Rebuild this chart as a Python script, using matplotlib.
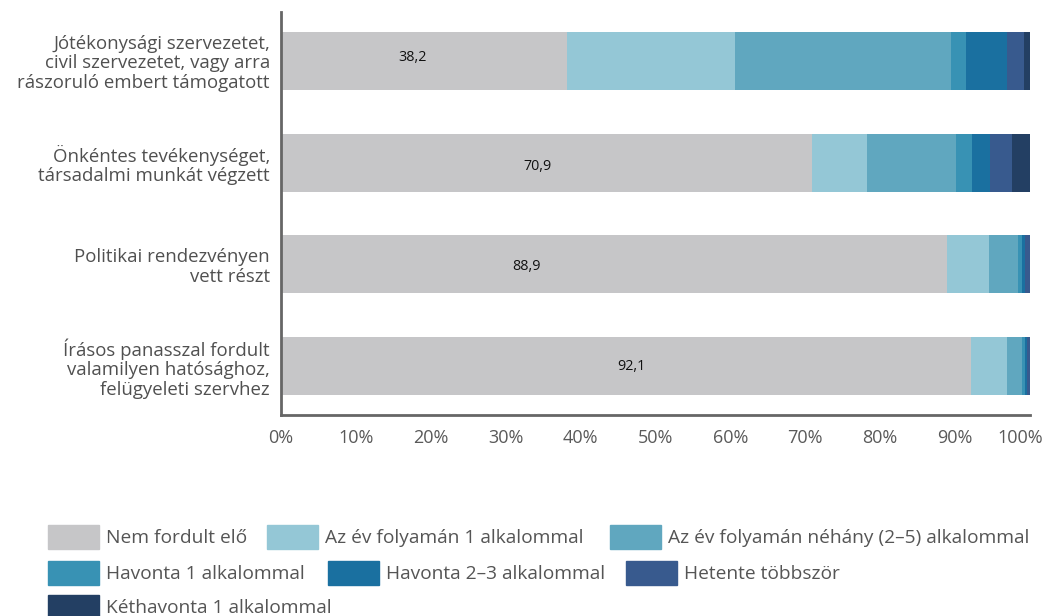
import matplotlib
matplotlib.use("Agg")
import matplotlib.pyplot as plt
from matplotlib.patches import Rectangle
import matplotlib.transforms as mtransforms

plt.rcParams['font.family'] = ['Open Sans', 'DejaVu Sans']

categories = [
    "Jótékonysági szervezetet,\ncivil szervezetet, vagy arra\nrászoruló embert támogatott",
    "Önkéntes tevékenységet,\ntársadalmi munkát végzett",
    "Politikai rendezvényen\nvett részt",
    "Írásos panasszal fordult\nvalamilyen hatósághoz,\nfelügyeleti szervhez",
]

series_names = [
    "Nem fordult elő",
    "Az év folyamán 1 alkalommal",
    "Az év folyamán néhány (2–5) alkalommal",
    "Havonta 1 alkalommal",
    "Havonta 2–3 alkalommal",
    "Hetente többször",
    "Kéthavonta 1 alkalommal",
]

# one list per series, values for the four categories (percent)
nem_fordult_elo = [38.2, 70.9, 88.9, 92.1]
ev_1_alkalom = [22.4, 7.3, 5.6, 4.8]
ev_nehany_alkalom = [28.8, 11.9, 3.9, 2.0]
havonta_1 = [2.1, 2.1, 0.5, 0.5]
havonta_2_3 = [5.4, 2.5, 0.5, 0.2]
hetente_tobbszor = [2.3, 2.9, 0.6, 0.4]
kethavonta_1 = [0.8, 2.4, 0.0, 0.0]

values = [nem_fordult_elo, ev_1_alkalom, ev_nehany_alkalom,
          havonta_1, havonta_2_3, hetente_tobbszor, kethavonta_1]

colors = ['#c6c6c8', '#94c7d6', '#60a7bf', '#3892b4', '#1a70a0', '#385a8e', '#233f63']

# where the value labels of the first series sit along the bar (percent, bar offset)
label_pos = [17.6, 34.3, 32.8, 46.8]
label_dy = [-0.03, 0.04, 0.02, 0.0]

fig = plt.figure(figsize=(10.45, 6.16), dpi=100)
ax = fig.add_axes([0.2689, 0.3263, 0.7167, 0.6542])

ypos = list(range(len(categories)))
left = [0.0] * len(categories)
for name, vals, col in zip(series_names, values, colors):
    ax.barh(ypos, vals, left=left, height=0.57, color=col, label=name)
    left = [l + v for l, v in zip(left, vals)]

for y, v, xp, dy in zip(ypos, nem_fordult_elo, label_pos, label_dy):
    ax.text(xp, y + dy, f"{v:.1f}".replace('.', ','), ha='center', va='center',
            fontsize=10.3, color='#111111')

ax.set_xlim(0, 100)
ax.set_ylim(3.48, -0.48)
ax.set_yticks(ypos)
ax.set_yticklabels(categories, fontsize=13.4, color='#505050', linespacing=1.08)
ax.set_xticks(range(0, 101, 10))
ax.set_xticklabels([f"{t}%" for t in range(0, 101, 10)], fontsize=13, color='#595959')
ax.tick_params(axis='both', length=0)
ax.tick_params(axis='y', pad=8)
ax.tick_params(axis='x', pad=10)
# pull the last tick label slightly inwards so it stays on the canvas
last = ax.get_xticklabels()[-1]
last.set_transform(last.get_transform() + mtransforms.ScaledTranslation(-0.1, 0, fig.dpi_scale_trans))
for s in ['top', 'right']:
    ax.spines[s].set_visible(False)
for s in ['left', 'bottom']:
    ax.spines[s].set_color('#666666')
    ax.spines[s].set_linewidth(2)

# legend laid out in rows, positions in pixels
W, H = 1045, 616
legend_rows = [[0, 1, 2], [3, 4, 5], [6]]
legend_x = [[48, 267, 610], [48, 328, 626], [48]]
legend_y = [537, 573, 607]
for row, xs, yc in zip(legend_rows, legend_x, legend_y):
    for i, x0 in zip(row, xs):
        fig.patches.append(Rectangle((x0 / W, 1 - (yc + 12) / H), 51 / W, 24 / H,
                                     transform=fig.transFigure, color=colors[i]))
        fig.text((x0 + 58) / W, 1 - (yc + 1) / H, series_names[i], ha='left', va='center',
                 fontsize=13.8, color='#555555')

fig.savefig("out.png", dpi=100)
